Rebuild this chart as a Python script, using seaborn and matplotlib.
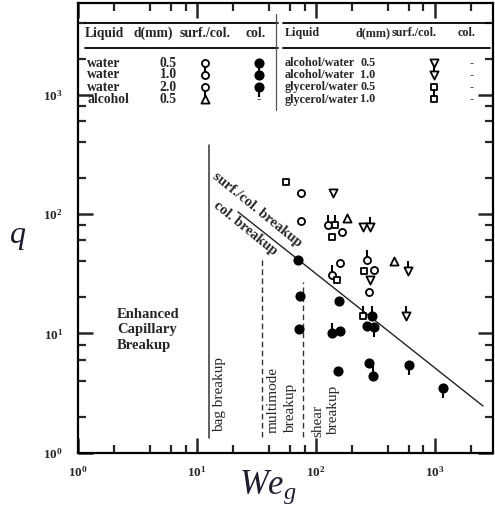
import matplotlib
matplotlib.use("Agg")
import matplotlib.pyplot as plt
import seaborn as sns
from matplotlib.ticker import LogLocator, NullFormatter, FixedLocator

# surf./col. breakup points (open markers)
water05_x = [74, 74, 166, 159, 307, 280]
water05_y = [151, 87, 70, 39, 34, 22]
water10_x = [127, 135, 270]
water10_y = [81, 31, 41]
glyc05_x = [56, 135, 151, 253]
glyc05_y = [185, 64, 28, 33]
glyc10_x = [144, 250]
glyc10_y = [81, 14]
alc05_x = [181, 455]
alc05_y = [92, 40]
aw05_x = [138, 247, 284]
aw05_y = [150, 77, 28]
aw10_x = [284, 589, 570]
aw10_y = [77, 33, 14]

# col. breakup points (filled markers)
water05c_x = [71, 73, 72, 157, 159, 267, 154, 280]
water05c_y = [41, 20.5, 10.8, 18.6, 10.5, 11.5, 4.8, 5.6]
water10c_x = [135, 294, 299]
water10c_y = [10.1, 14.0, 4.4]
water20c_x = [307, 608, 1175]
water20c_y = [11.4, 5.4, 3.5]

# regime boundaries
bag_x = [12.6, 12.6]
bag_y = [1.33, 378]
multi_x = [35, 35]
multi_y = [1.35, 43.5]
shear_x = [78, 78]
shear_y = [1.35, 27]
colline_x = [22, 2535]
colline_y = [104, 2.46]

xticks = [1, 10, 100, 1000]
xlabels = [r"$\mathbf{10^{0}}$", r"$\mathbf{10^{1}}$", r"$\mathbf{10^{2}}$", r"$\mathbf{10^{3}}$"]
yticks = [1, 10, 100, 1000]
ylabels = xlabels

# table (legend) content
left_liq = ["water", "water", "water", "alcohol"]
left_d = ["0.5", "1.0", "2.0", "0.5"]
right_liq = ["alcohol/water", "alcohol/water", "glycerol/water", "glycerol/water"]
right_d = ["0.5", "1.0", "0.5", "1.0"]
left_mk = [("o", None), ("o", "up"), ("o", "down"), ("^", None)]
right_mk = [("v", None), ("v", "up"), ("s", None), ("s", "up")]

sns.set_style("ticks")
plt.rcParams["font.family"] = ["Liberation Serif", "DejaVu Serif"]
plt.rcParams["mathtext.fontset"] = "custom"
plt.rcParams["mathtext.rm"] = "Liberation Serif"
plt.rcParams["mathtext.it"] = "Liberation Serif:italic"
plt.rcParams["mathtext.bf"] = "Liberation Serif:bold"

W, H = 495, 512
def fx(p):
    return p / W
def fy(p):
    return 1 - p / H

fig = plt.figure(figsize=(4.95, 5.12), dpi=100)
ax = fig.add_axes([78.3 / W, 1 - 452.7 / H, (493 - 78.3) / W, (452.7 - 3) / H])
ax.set_xscale("log")
ax.set_yscale("log")
ax.set_xlim(1, 3076)
ax.set_ylim(1, 5840)

def pts(xs, ys, marker, filled, stem=None, s=26):
    if stem:
        ax.plot(xs, ys, ls="none", marker=2 if stem == "up" else 3, ms=7.5,
                mew=1.5, color="black", zorder=3)
    sns.scatterplot(x=xs, y=ys, marker=marker, s=s,
                    color="black" if filled else "white", edgecolor="black",
                    linewidth=1.3, ax=ax, zorder=4)

# boundaries
ax.plot(bag_x, bag_y, color="#333333", lw=1.1, zorder=2)
ax.plot(multi_x, multi_y, color="#333333", lw=1.0, ls=(0, (4, 2.5)), zorder=2)
ax.plot(shear_x, shear_y, color="#333333", lw=1.0, ls=(0, (4, 2.5)), zorder=2)
ax.plot(colline_x, colline_y, color="#222222", lw=1.0, zorder=2)

pts(water05_x, water05_y, "o", False)
pts(water10_x, water10_y, "o", False, "up")
pts(glyc05_x, glyc05_y, "s", False, s=24)
pts(glyc10_x, glyc10_y, "s", False, "up", s=24)
pts(alc05_x, alc05_y, "^", False, s=34)
pts(aw05_x, aw05_y, "v", False, s=34)
pts(aw10_x, aw10_y, "v", False, "up", s=34)
pts(water05c_x, water05c_y, "o", True, s=36)
pts(water10c_x, water10c_y, "o", True, "up", s=36)
pts(water20c_x, water20c_y, "o", True, "down", s=36)

# axes styling
for sp in ax.spines.values():
    sp.set_linewidth(1.6)
    sp.set_color("black")
ax.xaxis.set_major_locator(FixedLocator(xticks))
ax.yaxis.set_major_locator(FixedLocator(yticks))
ax.xaxis.set_minor_locator(LogLocator(base=10, subs=[2, 4, 6, 8]))
ax.yaxis.set_minor_locator(LogLocator(base=10, subs=[2, 4, 6, 8]))
ax.xaxis.set_minor_formatter(NullFormatter())
ax.yaxis.set_minor_formatter(NullFormatter())
ax.set_xticklabels(xlabels, fontsize=9.5)
ax.set_yticklabels(ylabels, fontsize=9.5)
ax.tick_params(which="major", direction="in", length=11, width=1.8,
               top=True, right=True, pad=9)
ax.tick_params(which="minor", direction="in", length=5.5, width=1.6,
               top=True, right=True)
ax.tick_params(axis="y", which="major", pad=11)

fig.text(fx(268), fy(487), r"$We_g$", fontsize=25, ha="center", va="center",
         color="#1c1c30")
fig.text(fx(18), fy(238), r"$q$", fontsize=23, ha="center", va="center",
         color="#1c1c30")

# in-plot annotations
fig.text(fx(117), fy(330), "Enhanced\nCapillary\nBreakup", fontsize=10.5,
         fontweight="bold", ha="left", va="center", linespacing=1.2)
fig.text(fx(220), fy(432), "bag breakup", fontsize=11, rotation=90,
         ha="center", va="bottom")
fig.text(fx(273), fy(433), "multimode", fontsize=11, rotation=90,
         ha="center", va="bottom")
fig.text(fx(291), fy(433), "breakup", fontsize=11, rotation=90,
         ha="center", va="bottom")
fig.text(fx(318), fy(437), "shear", fontsize=11, rotation=90,
         ha="center", va="bottom")
fig.text(fx(334), fy(435), "breakup", fontsize=11, rotation=90,
         ha="center", va="bottom")
fig.text(fx(257), fy(210), "surf./col. breakup", fontsize=10.5,
         fontweight="bold", rotation=-39, rotation_mode="anchor",
         ha="center", va="center")
fig.text(fx(245), fy(228), "col. breakup", fontsize=10.5, fontweight="bold",
         rotation=-39, rotation_mode="anchor", ha="center", va="center")

# table at the top
tl = dict(fontsize=9.8, fontweight="bold", va="center")
tr = dict(fontsize=8.7, fontweight="bold", va="center")
for y in (22.7, 48.3):
    fig.add_artist(plt.Line2D([fx(85), fx(278)], [fy(y), fy(y)], color="black", lw=1.3))
    fig.add_artist(plt.Line2D([fx(283), fx(490)], [fy(y), fy(y)], color="black", lw=1.3))
fig.add_artist(plt.Line2D([fx(276), fx(276)], [fy(14), fy(110)], color="#555555", lw=0.9))

for t, x in [("Liquid", 85), ("d(mm)", 133), ("surf./col.", 180), ("col.", 246)]:
    fig.text(fx(x), fy(33.3), t, ha="left", **tl)
for t, x in [("Liquid", 285), ("d(mm)", 356), ("surf./col.", 392), ("col.", 458)]:
    fig.text(fx(x), fy(33.3), t, ha="left", **tr)

rows_y = [63.3, 75, 87.3, 99.5]
inv = ax.transData.inverted()

def legmark(x, y, m, stem, filled):
    # pixel position in the picture -> data position on the log axes
    dx, dy = inv.transform((x, H - y))
    pts([dx], [dy], m, filled, stem, s=36 if filled else (26 if m == "o" else (24 if m == "s" else 34)))

for i, y in enumerate(rows_y):
    fig.text(fx(87), fy(y), left_liq[i], ha="left", **tl)
    fig.text(fx(168), fy(y), left_d[i], ha="center", **tl)
    legmark(205, y, left_mk[i][0], left_mk[i][1], False)
    if i < 3:
        legmark(259, y, "o", left_mk[i][1], True)
    else:
        fig.text(fx(259), fy(y), "-", ha="center", **tl)
    fig.text(fx(285), fy(y), right_liq[i], ha="left", **tr)
    fig.text(fx(368), fy(y), right_d[i], ha="center", **tr)
    legmark(434, y, right_mk[i][0], right_mk[i][1], False)
    fig.text(fx(472), fy(y), "-", ha="center", **tr)

ax.set_xlim(1, 3076)
ax.set_ylim(1, 5840)
fig.savefig("out.png", dpi=100)
